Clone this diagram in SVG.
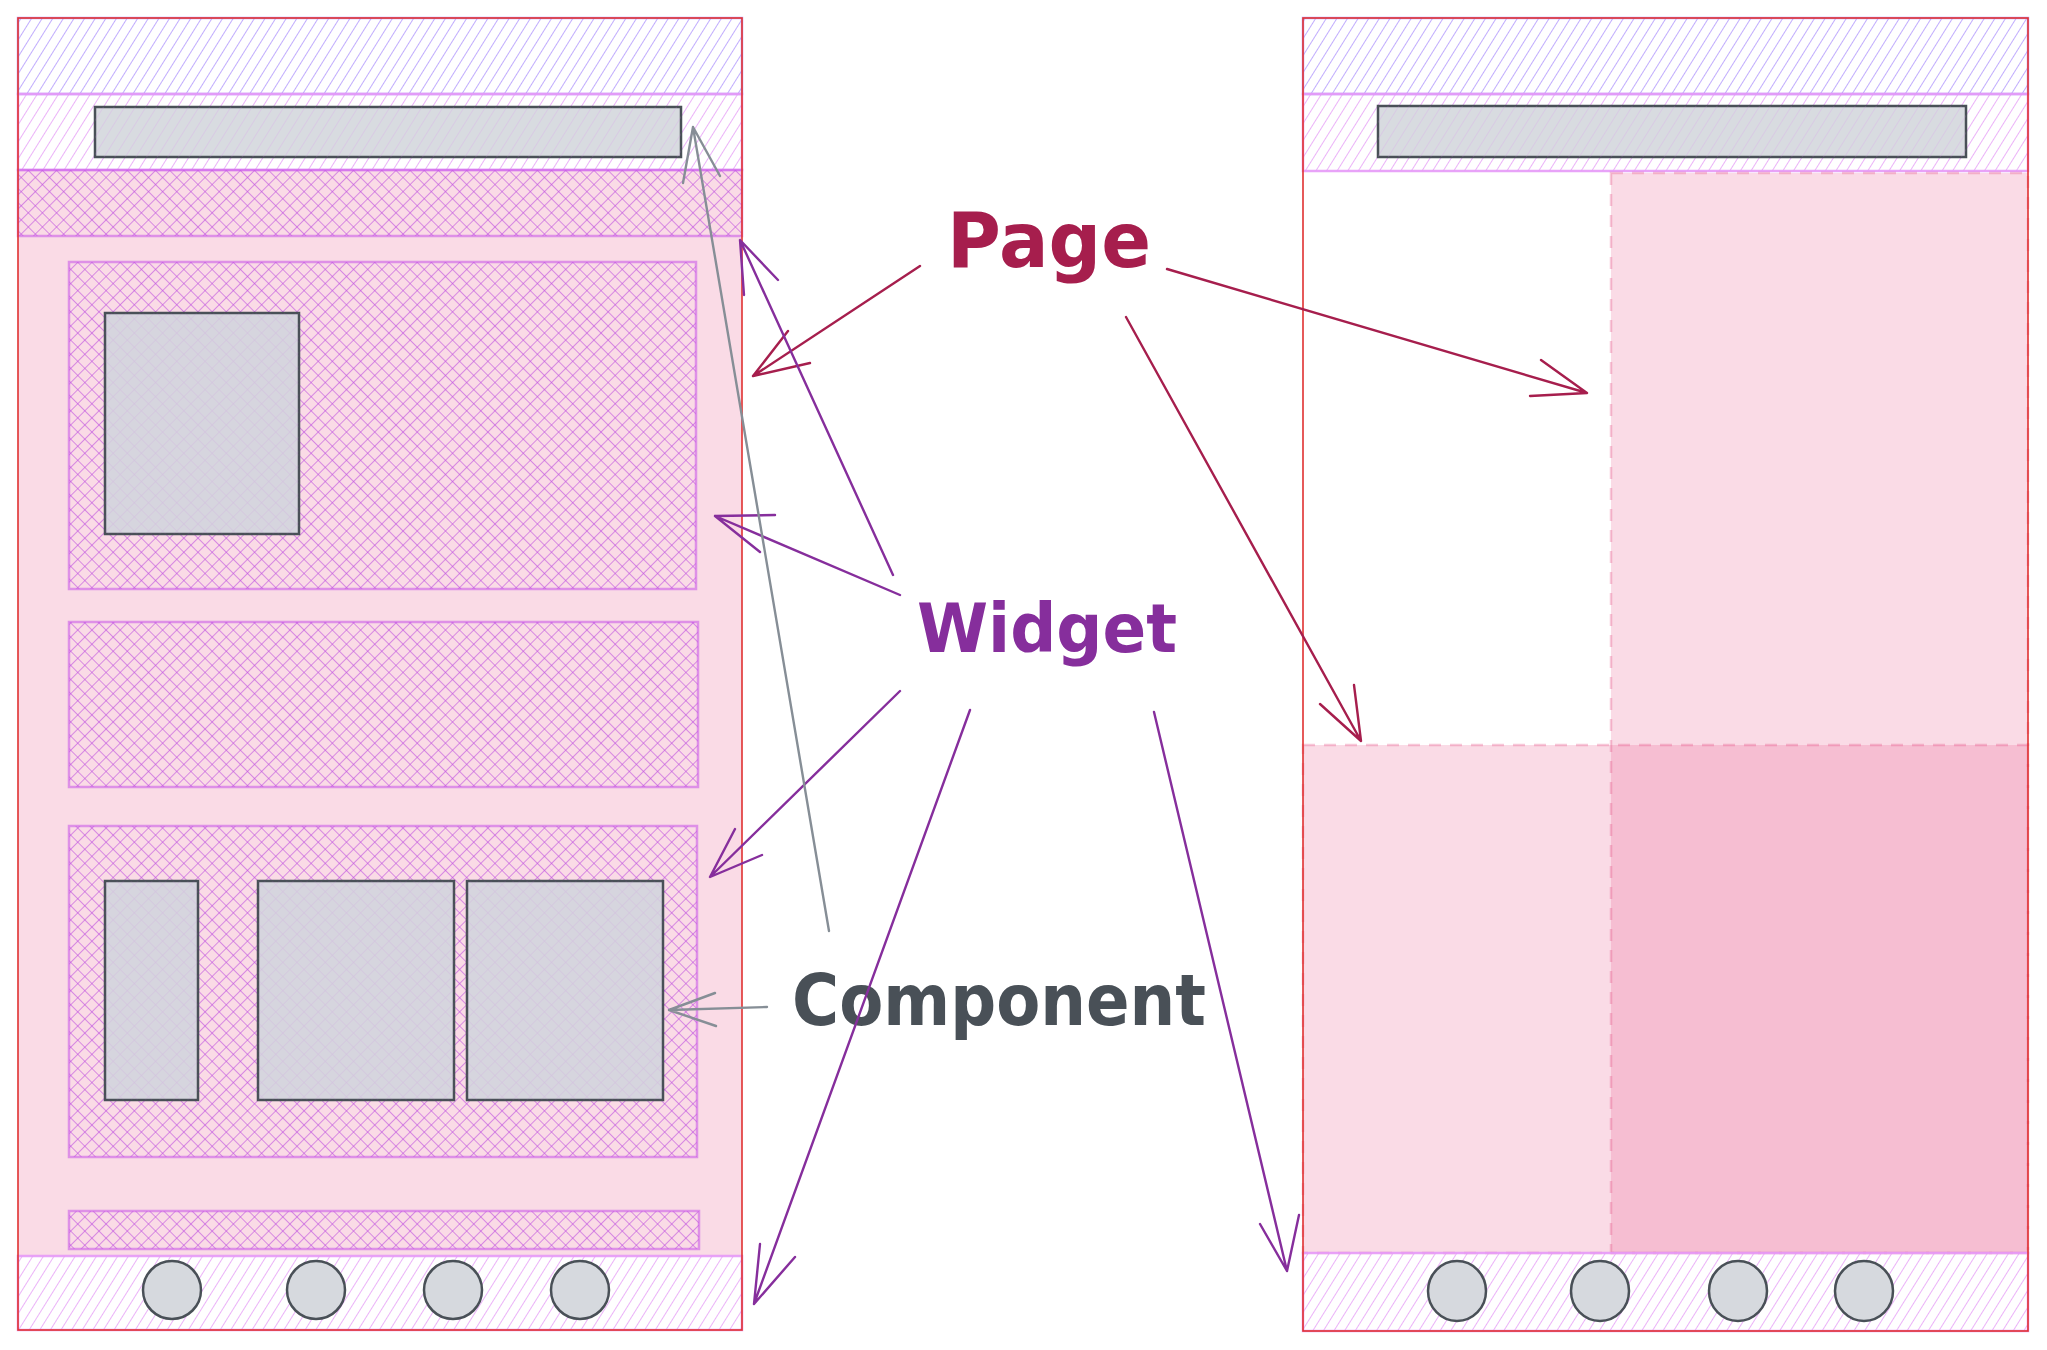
<svg xmlns="http://www.w3.org/2000/svg" width="2047" height="1350" viewBox="0 0 2047 1350">
<defs>
<pattern id="hatchBlue" patternUnits="userSpaceOnUse" width="9" height="9" patternTransform="rotate(32)"><line x1="0" y1="0" x2="0" y2="9" stroke="#9775fa" stroke-width="1.6" stroke-opacity="0.75"/></pattern>
<pattern id="hatchPink" patternUnits="userSpaceOnUse" width="9" height="9" patternTransform="rotate(32)"><line x1="0" y1="0" x2="0" y2="9" stroke="#da77f2" stroke-width="1.6" stroke-opacity="0.7"/></pattern>
<pattern id="cross" patternUnits="userSpaceOnUse" width="10" height="10" patternTransform="rotate(45)"><line x1="0" y1="0" x2="0" y2="10" stroke="#c050e0" stroke-width="1.7" stroke-opacity="0.7"/><line x1="0" y1="0" x2="10" y2="0" stroke="#c050e0" stroke-width="1.7" stroke-opacity="0.7"/></pattern>
</defs>
<style>
.frame{fill:none;stroke:#e03131;stroke-width:1.6}
.hdr{fill:url(#hatchBlue);stroke:#b197fc;stroke-opacity:.8;stroke-width:2.5}
.band{fill:url(#hatchPink);stroke:#e599f7;stroke-opacity:.9;stroke-width:2.5}
.body{fill:#e64980;fill-opacity:.2}
.widget{fill:url(#cross);stroke:#cc5de8;stroke-opacity:.6;stroke-width:2.5}
.comp{fill:#d6d5de;stroke:#495057;stroke-width:2.5}
.bar{fill:#d8dbe0;stroke:#495057;stroke-width:2.5}
.dot{fill:#d6d9de;stroke:#495057;stroke-width:2.5}
.zone{fill:#e64980;fill-opacity:.2;stroke:#e64980;stroke-opacity:.3;stroke-width:2.5;stroke-dasharray:12 9}
.lbl{font-family:"DejaVu Sans",sans-serif;font-weight:bold}
.a{fill:none;stroke-width:2.4;stroke-linecap:round;stroke-linejoin:round}
.ap{stroke:#a61e4d}
.aw{stroke:#862e9c}
.ac{stroke:#868e96}
</style>
<rect width="2047" height="1350" fill="#ffffff"/>

<g id="left-phone">
  <rect class="body" x="18" y="170" width="724" height="1086"/>
  <rect class="hdr" x="18" y="18" width="724" height="76"/>
  <rect class="band" x="18" y="94" width="724" height="76"/>
  <rect class="widget" x="18" y="170" width="724" height="66"/>
  <rect class="band" x="18" y="1256" width="724" height="74"/>
  <rect class="frame" x="18" y="18" width="724" height="1312"/>
</g>
<g id="left-search-bar"><rect class="bar" x="95" y="107" width="586" height="50"/><rect x="95" y="107" width="586" height="50" fill="url(#hatchPink)" opacity=".3"/></g>
<g id="widget-1">
  <rect class="widget" x="69" y="262" width="627" height="327"/>
  <rect class="comp" x="105" y="313" width="194" height="221"/>
  <rect x="105" y="313" width="194" height="221" fill="url(#cross)" opacity=".15"/>
</g>
<g id="widget-2"><rect class="widget" x="69" y="622" width="629" height="165"/></g>
<g id="widget-3">
  <rect class="widget" x="69" y="826" width="628" height="331"/>
  <rect class="comp" x="105" y="881" width="93" height="219"/>
  <rect class="comp" x="258" y="881" width="196" height="219"/>
  <rect class="comp" x="467" y="881" width="196" height="219"/>
  <rect x="105" y="881" width="93" height="219" fill="url(#cross)" opacity=".15"/>
  <rect x="258" y="881" width="196" height="219" fill="url(#cross)" opacity=".15"/>
  <rect x="467" y="881" width="196" height="219" fill="url(#cross)" opacity=".15"/>
</g>
<g id="widget-4"><rect class="widget" x="69" y="1211" width="630" height="38"/></g>
<g id="left-nav">
  <circle class="dot" cx="172" cy="1290" r="29"/>
  <circle class="dot" cx="316" cy="1290" r="29"/>
  <circle class="dot" cx="453" cy="1290" r="29"/>
  <circle class="dot" cx="580" cy="1290" r="29"/>
</g>

<g id="right-phone">
  <rect class="hdr" x="1303" y="18" width="725" height="76"/>
  <rect class="band" x="1303" y="94" width="725" height="77"/>
  <rect class="zone" x="1611" y="173" width="417" height="1080"/>
  <rect class="zone" x="1303" y="745" width="725" height="508"/>
  <rect class="band" x="1303" y="1253" width="725" height="78"/>
  <rect class="frame" x="1303" y="18" width="725" height="1313"/>
</g>
<g id="right-search-bar"><rect class="bar" x="1378" y="106" width="588" height="51"/><rect x="1378" y="106" width="588" height="51" fill="url(#hatchPink)" opacity=".3"/></g>
<g id="right-nav">
  <ellipse class="dot" cx="1457" cy="1291" rx="29" ry="30"/>
  <ellipse class="dot" cx="1600" cy="1291" rx="29" ry="30"/>
  <ellipse class="dot" cx="1738" cy="1291" rx="29" ry="30"/>
  <ellipse class="dot" cx="1864" cy="1291" rx="29" ry="30"/>
</g>

<g id="label-page"><text class="lbl" x="947" y="267" font-size="76" fill="#a61e4d" textLength="204" lengthAdjust="spacingAndGlyphs">Page</text></g>
<g id="label-widget"><text class="lbl" x="917" y="652" font-size="68" fill="#862e9c" textLength="260" lengthAdjust="spacingAndGlyphs">Widget</text></g>
<g id="label-component"><text class="lbl" x="792" y="1025" font-size="72" fill="#495057" textLength="414" lengthAdjust="spacingAndGlyphs">Component</text></g>

<g id="connectors">
  <path class="a ap" d="M920 266 L753 376 M788 331 L753 376 L810 363"/>
  <path class="a ap" d="M1167 269 L1587 393 M1541 360 L1587 393 L1530 396"/>
  <path class="a ap" d="M1126 317 L1361 741 M1320 704 L1361 741 L1354 685"/>
  <path class="a aw" d="M893 575 L740 240 M778 280 L740 240 L744 295"/>
  <path class="a aw" d="M900 595 L715 516 M775 515 L715 516 L760 552"/>
  <path class="a aw" d="M900 691 L710 877 M735 829 L710 877 L762 855"/>
  <path class="a aw" d="M970 710 L754 1304 M760 1244 L754 1304 L795 1257"/>
  <path class="a aw" d="M1154 712 L1287 1271 M1260 1224 L1287 1271 L1299 1215"/>
  <path class="a ac" d="M829 931 L693 127 M683 183 L693 127 L720 176"/>
  <path class="a ac" d="M767 1007 L669 1010 M715 993 L669 1010 L716 1026"/>
</g>
</svg>
